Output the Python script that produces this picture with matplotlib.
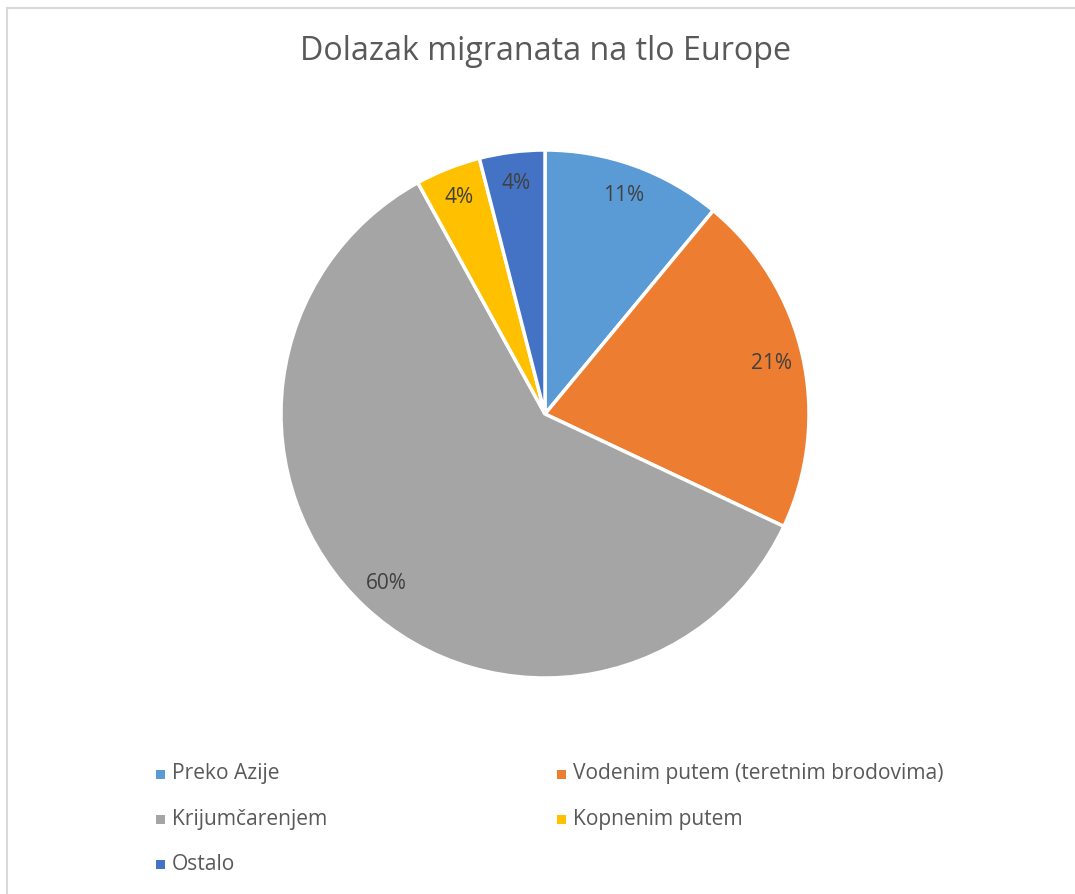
import matplotlib.pyplot as plt
from matplotlib.lines import Line2D
from matplotlib.patches import Rectangle

# --- Data ---
TITLE = 'Dolazak migranata na tlo Europe'
categories = ['Preko Azije', 'Vodenim putem (teretnim brodovima)', 'Krijumčarenjem',
              'Kopnenim putem', 'Ostalo']
shares = [11, 21, 60, 4, 4]
colors = ['#5B9BD5', '#ED7D31', '#A5A5A5', '#FFC000', '#4472C4']

plt.rcParams['font.family'] = ['Open Sans', 'DejaVu Sans']

W, H = 1075, 894
fig = plt.figure(figsize=(W / 100, H / 100), dpi=100)

# chart frame (only top and left edges visible in the crop)
fig.add_artist(Line2D([7 / W, 7 / W], [0, 1 - 8 / H], color='#D9D9D9', lw=1.5))
fig.add_artist(Line2D([7 / W, 1], [1 - 8 / H, 1 - 8 / H], color='#D9D9D9', lw=1.5))

# pie
cx, cy, r = 545, 414, 264
ax = fig.add_axes([(cx - r) / W, (H - cy - r) / H, 2 * r / W, 2 * r / H])
wedges, texts, autotexts = ax.pie(
    shares, colors=colors, startangle=90, counterclock=False,
    autopct='%1.0f%%', pctdistance=0.88,
    wedgeprops=dict(edgecolor='white', linewidth=2.5),
    textprops=dict(color='#404040', fontsize=15))
ax.set_xlim(-1, 1)
ax.set_ylim(-1, 1)
ax.set_aspect('equal')
ax.axis('off')

fig.text(545 / W, 1 - 52 / H, TITLE, ha='center', va='center',
         fontsize=23.2, color='#595959')

# legend, two columns, row-major order
col_x = [160, 561]
row_y = [774, 819, 864]
sq = 9
for i, (lab, col) in enumerate(zip(categories, colors)):
    x = col_x[i % 2]
    y = row_y[i // 2]
    fig.add_artist(Rectangle(((x - sq / 2) / W, 1 - (y + sq / 2) / H), sq / W, sq / H,
                             facecolor=col, edgecolor='none', transform=fig.transFigure))
    fig.text((x + 12) / W, 1 - y / H, lab, ha='left', va='center',
             fontsize=15.1, color='#595959')

fig.savefig('out.png', dpi=100, facecolor='white')
